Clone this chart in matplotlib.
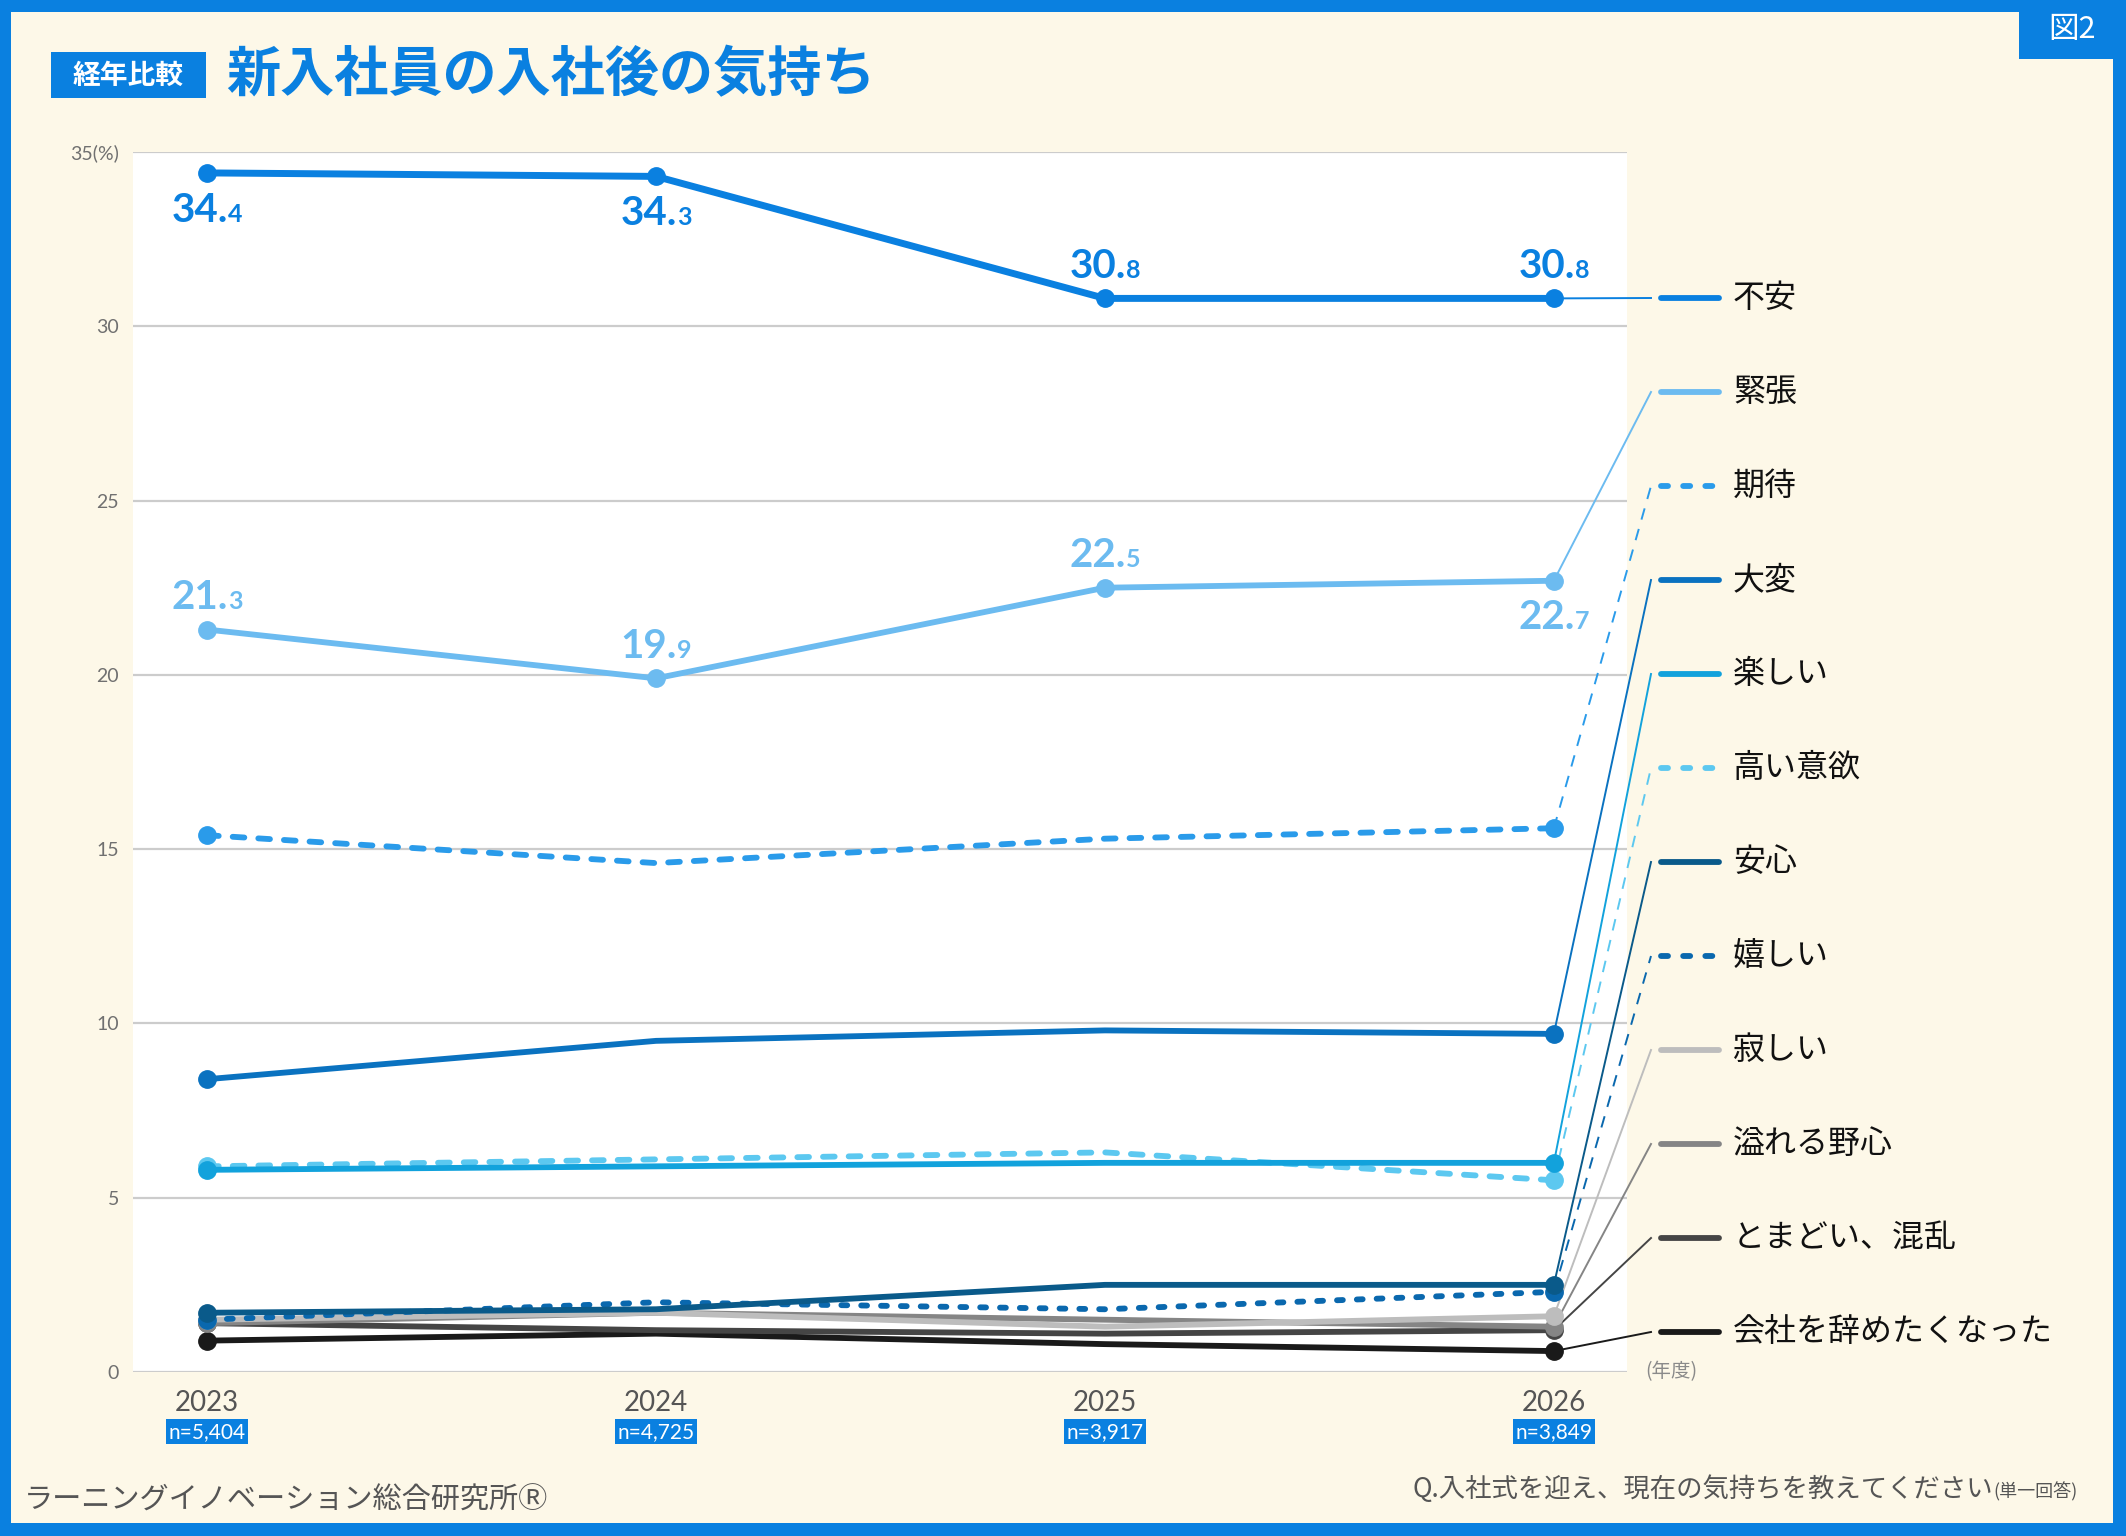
import matplotlib
matplotlib.use("Agg")
import matplotlib.pyplot as plt
from matplotlib.patches import Rectangle

plt.rcParams['font.family'] = ['Noto Sans CJK JP', 'DejaVu Sans']

# ---- data ----
years = [2023, 2024, 2025, 2026]
n_labels = ['n=5,404', 'n=4,725', 'n=3,917', 'n=3,849']
categories = ['不安', '緊張', '期待', '大変', '楽しい', '高い意欲',
              '安心', '嬉しい', '寂しい', '溢れる野心', 'とまどい、混乱', '会社を辞めたくなった']
fuan = [34.4, 34.3, 30.8, 30.8]
kinchou = [21.3, 19.9, 22.5, 22.7]
kitai = [15.4, 14.6, 15.3, 15.6]
taihen = [8.4, 9.5, 9.8, 9.7]
tanoshii = [5.8, 5.9, 6.0, 6.0]
iyoku = [5.9, 6.1, 6.3, 5.5]
anshin = [1.7, 1.8, 2.5, 2.5]
ureshii = [1.5, 2.0, 1.8, 2.3]
sabishii = [1.5, 1.7, 1.3, 1.6]
yashin = [1.4, 1.7, 1.5, 1.3]
tomadoi = [1.4, 1.2, 1.1, 1.2]
yameta = [0.9, 1.1, 0.8, 0.6]
series = [fuan, kinchou, kitai, taihen, tanoshii, iyoku,
          anshin, ureshii, sabishii, yashin, tomadoi, yameta]

# ---- styles ----
colors = ['#0A80E0', '#6CBBF0', '#2A9BEA', '#0A72C0', '#12A2DC', '#5CC8F0',
          '#0A5A8A', '#0A68AE', '#BDBDBD', '#858585', '#454545', '#1A1A1A']
dashes = [None, None, (2.0, 2.4), None, None, (2.0, 2.4),
          None, (1.0, 2.4), None, None, None, None]
BLUE = '#0A80E0'
CREAM = '#FDF8E8'

W, H = 2126, 1536
fig = plt.figure(figsize=(W / 100, H / 100), dpi=100)
fig.patch.set_facecolor(BLUE)

def fx(px):
    return px / W

def fy(py):
    return 1 - py / H

# cream panel and the tab (behind the axes)
fig.patches.append(Rectangle((fx(11), fy(1523)), fx(2113) - fx(11), fy(12) - fy(1523),
                             transform=fig.transFigure, facecolor=CREAM, edgecolor='none', zorder=-3))
fig.patches.append(Rectangle((fx(2019), fy(59)), 1 - fx(2019), 1 - fy(59),
                             transform=fig.transFigure, facecolor=BLUE, edgecolor='none', zorder=-2))
fig.text(fx(2072), fy(30), '図2', color='white', fontsize=22, ha='center', va='center')

# title
fig.patches.append(Rectangle((fx(51), fy(98)), fx(206) - fx(51), fy(52) - fy(98),
                             transform=fig.transFigure, facecolor=BLUE, edgecolor='none', zorder=-2))
fig.text(fx(128), fy(76), '経年比較', color='white', fontsize=20, fontweight='bold',
         ha='center', va='center')
fig.text(fx(226), fy(76), '新入社員の入社後の気持ち', color=BLUE, fontsize=39,
         fontweight='bold', ha='left', va='center')

# axes
L, R, T, B = 133, 1627, 152, 1372
ax = fig.add_axes([fx(L), fy(B), fx(R) - fx(L), fy(T) - fy(B)])
ax.set_facecolor('white')
ax.set_xlim(2022.835, 2026.163)
ax.set_ylim(0, 35)
for s in ax.spines.values():
    s.set_visible(False)
ax.set_yticks(range(0, 36, 5))
ax.set_yticklabels(['0', '5', '10', '15', '20', '25', '30', '35(%)'],
                   fontsize=14, color='#707070', family=['Lato', 'DejaVu Sans'])
ax.tick_params(axis='y', length=0, pad=10)
ax.grid(axis='y', color='#CCCCCC', lw=1.6, zorder=1)
ax.set_axisbelow(True)
ax.set_xticks(years)
ax.set_xticklabels([str(y) for y in years], fontsize=20, color='#555555',
                   family=['Lato', 'DejaVu Sans'])
ax.tick_params(axis='x', length=0, pad=13)
ax.grid(axis='x', visible=False)

# n badges under year labels
for yr, nl in zip(years, n_labels):
    ax.annotate(nl, xy=(yr, 0), xycoords=('data', 'axes fraction'),
                xytext=(0, -43), textcoords='offset points', ha='center', va='center',
                fontsize=15, color='white', family=['Lato', 'DejaVu Sans'],
                bbox=dict(boxstyle='square,pad=0.12', fc=BLUE, ec='none'))

ax.text(1.012, 0.0, '(年度)', transform=ax.transAxes, fontsize=14, color='#8A8A8A',
        ha='left', va='center')

# lines
inv = ax.transData.inverted()

def data_x(px):
    return inv.transform((px, 0))[0]

def data_y(py):
    return inv.transform((0, H - py))[1]

x_conn = data_x(1651)
x_s0, x_s1, x_txt = data_x(1661), data_x(1719), data_x(1733)

for i in range(len(series))[::-1]:
    vals = series[i]
    lw = 5.0 if i == 0 else 4.2
    kw = dict(color=colors[i], lw=lw, solid_capstyle='round', zorder=3 + (12 - i) * 0.01)
    if dashes[i]:
        kw.update(ls=(0, dashes[i]), dash_capstyle='round')
    mk = [0, 1, 2, 3] if i < 2 else [0, 3]
    ax.plot(years, vals, marker='o', markersize=12.5, markevery=mk, **kw)

    ly = data_y(298 + i * 94.0)
    ckw = dict(color=colors[i], lw=1.4, clip_on=False, zorder=2)
    if dashes[i]:
        ckw.update(ls=(0, (6, 5)))
    ax.plot([years[-1], x_conn], [vals[-1], ly], **ckw)
    skw = dict(color=colors[i], lw=4.2, solid_capstyle='round', clip_on=False)
    if dashes[i]:
        skw.update(ls=(0, (1.2, 2.6)), dash_capstyle='round')
    ax.plot([x_s0, x_s1], [ly, ly], **skw)
    ax.text(x_txt, ly, categories[i], fontsize=23, color='#111111', ha='left', va='center')

# value labels for the top two series
label_pos = {0: ['below', 'below', 'above', 'above'],
             1: ['above', 'above', 'above', 'below']}
for i, places in label_pos.items():
    for yr, v, where in zip(years, series[i], places):
        whole, dec = f'{v:.1f}'.split('.')
        dy = 15 if where == 'above' else -35
        ax.annotate(whole + '.', xy=(yr, v), xytext=(15, dy), textcoords='offset points',
                    ha='right', va='baseline', fontsize=29, fontweight='bold',
                    color=colors[i], family=['Lato', 'DejaVu Sans'], zorder=6)
        ax.annotate(dec, xy=(yr, v), xytext=(15, dy), textcoords='offset points',
                    ha='left', va='baseline', fontsize=18, fontweight='bold',
                    color=colors[i], family=['Lato', 'DejaVu Sans'], zorder=6)

# footer
fig.text(fx(24), fy(1501), 'ラーニングイノベーション総合研究所Ⓡ', fontsize=21,
         color='#555555', ha='left', va='center')
q = fig.text(fx(1413), fy(1489), 'Q.入社式を迎え、現在の気持ちを教えてください', fontsize=19,
             color='#555555', ha='left', va='center')
fig.canvas.draw()
bb = q.get_window_extent()
fig.text(bb.x1 / W, fy(1492), '(単一回答)', fontsize=13, color='#555555',
         ha='left', va='center')

fig.savefig('out.png', dpi=100, facecolor=fig.get_facecolor())
